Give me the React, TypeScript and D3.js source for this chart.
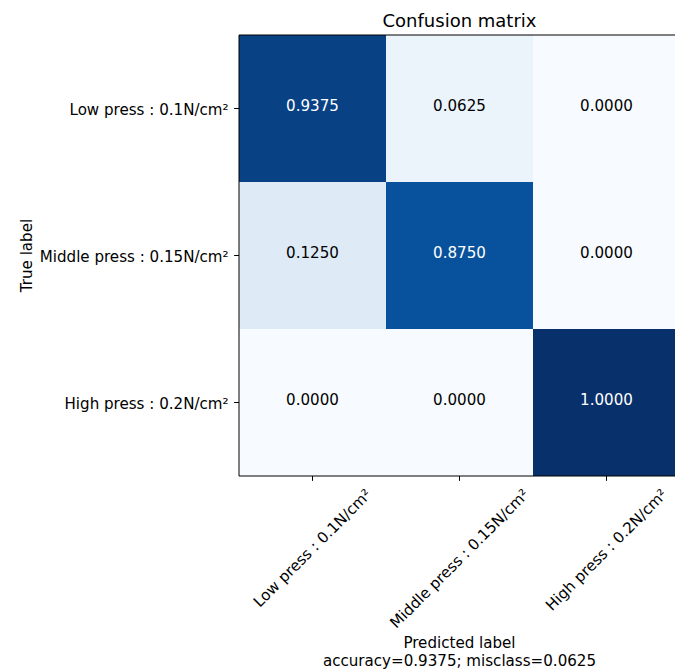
import React from "react";
import * as d3 from "d3";

const classes = ["Low press : 0.1N/cm²", "Middle press : 0.15N/cm²", "High press : 0.2N/cm²"];
const row0 = [0.9375, 0.0625, 0.0];
const row1 = [0.125, 0.875, 0.0];
const row2 = [0.0, 0.0, 1.0];
const matrix = [row0, row1, row2];
const title = "Confusion matrix";
const yLabel = "True label";
const xLabel = "Predicted label";
const accuracy = 0.9375;
const misclass = 0.0625;

const blueStops = ["#f7fbff", "#deebf7", "#c6dbef", "#9ecae1", "#6baed6", "#4292c6", "#2171b5", "#08519c", "#08306b"];

const W = 675, H = 671;
const left = 239, top = 35, cell = 147;
const FONT = "DejaVu Sans, sans-serif";
const fs = 15.1;

let ctx: CanvasRenderingContext2D | null = null;
function measure(t: string, size: number) {
  if (!ctx) ctx = document.createElement("canvas").getContext("2d");
  if (!ctx) return t.length * size * 0.6;
  ctx.font = `${size}px DejaVu Sans`;
  return ctx.measureText(t).width;
}

export default function App() {
  const n = classes.length;
  const x = d3.scaleBand<number>().domain(d3.range(n)).range([left, left + n * cell]);
  const y = d3.scaleBand<number>().domain(d3.range(n)).range([top, top + n * cell]);
  const maxV = d3.max(matrix.flat()) as number;
  const color = d3
    .scaleLinear<string>()
    .domain(blueStops.map((_, i) => (i / (blueStops.length - 1)) * maxV))
    .range(blueStops)
    .interpolate(d3.interpolateRgb);
  const thresh = maxV / 2;
  const bottom = top + n * cell;
  const tickLen = 4.9;
  const textH = fs * 1.16;

  return (
    <svg width={W} height={H} style={{ position: "fixed", left: 0, top: 0, background: "#fff" }} fontFamily={FONT}>
      {matrix.map((row, i) =>
        row.map((v, j) => (
          <rect key={`c${i}${j}`} x={x(j)} y={y(i)} width={x.bandwidth()} height={y.bandwidth()} fill={color(v)} />
        ))
      )}
      {matrix.map((row, i) =>
        row.map((v, j) => (
          <text
            key={`t${i}${j}`}
            x={(x(j) as number) + x.bandwidth() / 2}
            y={(y(i) as number) + y.bandwidth() / 2 - 3}
            textAnchor="middle"
            dominantBaseline="central"
            fontSize={fs}
            fill={v > thresh ? "#ffffff" : "#000000"}
          >
            {v.toFixed(4)}
          </text>
        ))
      )}
      {/* spines */}
      <line x1={left} x2={left} y1={top} y2={bottom} stroke="#000" strokeWidth={1} />
      <line x1={left} x2={left + n * cell} y1={bottom} y2={bottom} stroke="#000" strokeWidth={1} />
      <line x1={left} x2={left + n * cell} y1={top} y2={top} stroke="#000" strokeWidth={1} />
      {/* y ticks */}
      {classes.map((c, i) => {
        const cy = (y(i) as number) + y.bandwidth() / 2;
        return (
          <g key={`yt${i}`}>
            <line x1={left - tickLen} x2={left} y1={cy} y2={cy} stroke="#000" strokeWidth={1} />
            <text x={left - tickLen - 5.5} y={cy + 1.5} textAnchor="end" dominantBaseline="central" fontSize={fs} fill="#000">
              {c}
            </text>
          </g>
        );
      })}
      {/* x ticks */}
      {classes.map((c, j) => {
        const cx = (x(j) as number) + x.bandwidth() / 2;
        const L = measure(c, fs);
        const boxH = (L + textH) / Math.SQRT2;
        const cyText = bottom + tickLen + 4.9 + boxH / 2;
        return (
          <g key={`xt${j}`}>
            <line x1={cx} x2={cx} y1={bottom} y2={bottom + tickLen} stroke="#000" strokeWidth={1} />
            <text
              transform={`translate(${cx},${cyText}) rotate(-45)`}
              textAnchor="middle"
              dominantBaseline="central"
              fontSize={fs}
              fill="#000"
            >
              {c}
            </text>
          </g>
        );
      })}
      <text x={left + (n * cell) / 2} y={20} textAnchor="middle" dominantBaseline="central" fontSize={18} fill="#000">
        {title}
      </text>
      <text transform={`translate(27,${top + (n * cell) / 2}) rotate(-90)`} textAnchor="middle" dominantBaseline="central" fontSize={fs} fill="#000">
        {yLabel}
      </text>
      <text x={left + (n * cell) / 2} y={643} textAnchor="middle" dominantBaseline="central" fontSize={fs} fill="#000">
        {xLabel}
      </text>
      <text x={left + (n * cell) / 2} y={661} textAnchor="middle" dominantBaseline="central" fontSize={fs} fill="#000">
        {`accuracy=${accuracy.toFixed(4)}; misclass=${misclass.toFixed(4)}`}
      </text>
    </svg>
  );
}
